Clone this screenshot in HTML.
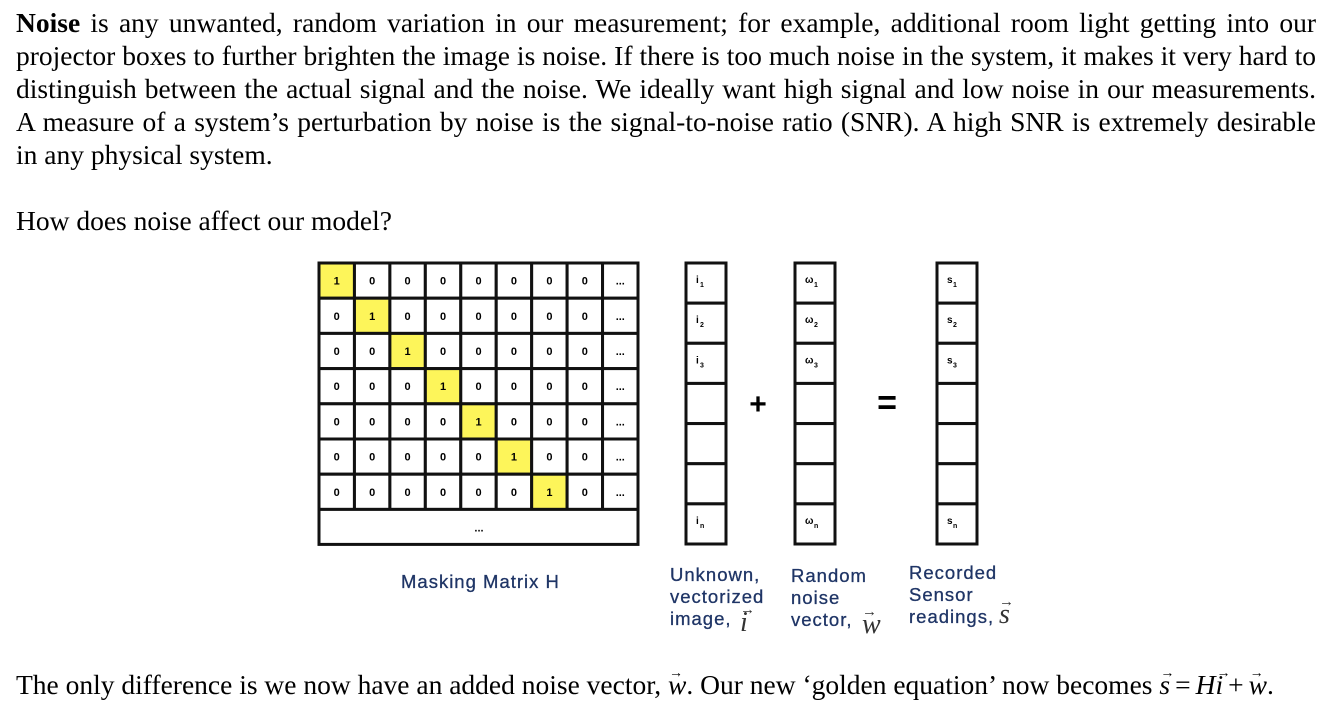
<!DOCTYPE html>
<html><head><meta charset="utf-8">
<style>
body{margin:0;width:1330px;height:714px;background:#fff;overflow:hidden;position:relative;font-family:"Liberation Serif","Times New Roman",serif;color:#000}
.ln{position:absolute;left:16px;width:1300px;font-size:27.5px;line-height:33px;white-space:nowrap}
.j{text-align:justify;text-align-last:justify;white-space:normal}
svg{position:absolute;left:0;top:0}
.v{font-style:italic;position:relative}
.v:before{content:"\2192";position:absolute;font-size:14px;top:-12px;left:1px;font-style:normal}
.op{margin:0 5px}
</style></head><body>
<div class="ln j" style="top:6px"><b>Noise</b> is any unwanted, random variation in our measurement; for example, additional room light getting into our</div>
<div class="ln j" style="top:39px">projector boxes to further brighten the image is noise. If there is too much noise in the system, it makes it very hard to</div>
<div class="ln j" style="top:72px">distinguish between the actual signal and the noise. We ideally want high signal and low noise in our measurements.</div>
<div class="ln j" style="top:105px">A measure of a system’s perturbation by noise is the signal-to-noise ratio (SNR). A high SNR is extremely desirable</div>
<div class="ln" style="top:138px">in any physical system.</div>
<div class="ln" style="top:204px">How does noise affect our model?</div>
<div class="ln" style="top:668px">The only difference is we now have an added noise vector, <span class="v">w</span>. Our new ‘golden equation’ now becomes <span class="v">s</span><span class="op">=</span><i>H</i><span class="v">i</span><span class="op">+</span><span class="v">w</span>.</div>

<svg id="fig" width="1330" height="714"></svg>
<script>
const NS="http://www.w3.org/2000/svg";
const svg=document.getElementById('fig');
function el(t,a,txt){const e=document.createElementNS(NS,t);for(const k in a)e.setAttribute(k,a[k]);if(txt!=null)e.textContent=txt;svg.appendChild(e);return e;}
const rows=7, cols=9;
const mx=319,my=263,cw=319/9,ch=35.2;
for(let r=0;r<rows;r++){for(let c=0;c<cols;c++){
 const x=mx+c*cw,y=my+r*ch;
 const r1=el('rect',{x:x,y:y,width:cw,height:ch,fill:(r===c?'#fdf55a':'#fff'),stroke:'#111','stroke-width':3});
 
 
 const t=el('text',{x:x+cw/2,y:y+ch/2+4,'text-anchor':'middle','font-family':'Liberation Sans, sans-serif','font-size':11,'font-weight':'bold'},c===8?'...':(r===c?'1':'0'));
 
 
}}
const br=el('rect',{x:mx,y:my+7*ch,width:319,height:35,fill:'#fff',stroke:'#111','stroke-width':3});


el('text',{x:mx+160,y:my+7*ch+22,'text-anchor':'middle','font-family':'Liberation Sans, sans-serif','font-size':11,'font-weight':'bold'},'...');
const vecs=[{x:686,l:'i'},{x:795,l:'ω'},{x:937,l:'s'}];
const vh=281/7;
vecs.forEach(v=>{for(let k=0;k<7;k++){
 const y=263+k*vh;
 const r=el('rect',{x:v.x,y:y,width:40,height:vh,fill:'#fff',stroke:'#111','stroke-width':3});
 
 
 const sub=k<3?String(k+1):(k===6?'n':null);
 if(sub){const t=el('text',{x:v.x+10,y:y+20,'font-family':'Liberation Sans, sans-serif','font-size':10,'font-weight':'bold'},v.l);
  
  
  el('text',{x:v.x+(v.l==='ω'?19:(v.l==='s'?16:14)),y:y+24,'font-family':'Liberation Sans, sans-serif','font-size':7,'font-weight':'bold'},sub);}
}});
el('text',{x:758,y:414,'text-anchor':'middle','font-family':'Liberation Sans, sans-serif','font-size':30,'font-weight':'bold'},'+');
el('text',{x:887,y:414,'text-anchor':'middle','font-family':'Liberation Sans, sans-serif','font-size':34,'font-weight':'bold'},'=');
function T(x,y,s,nm){const t=el('text',{x:x,y:y,'font-family':'Liberation Sans, sans-serif','font-size':18.5,'letter-spacing':1,fill:'#1f3566',stroke:'#1f3566','stroke-width':0.3},s);return t;}
T(401,588,'Masking Matrix H','matrix-label');
T(670,581,'Unknown,','image-label');T(670,603,'vectorized','image-label');T(670,625,'image,','image-label');
T(791,582,'Random','noise-label');T(791,604,'noise','noise-label');T(791,626,'vector,','noise-label');
T(909,579,'Recorded','sensor-label');T(909,601,'Sensor','sensor-label');T(909,623,'readings,','sensor-label');
function V(x,y,s){el('text',{x:x,y:y,'font-family':'Liberation Serif, serif','font-size':28,'font-style':'italic',fill:'#333'},s);el('text',{x:x,y:y-17,'font-family':'Liberation Sans, sans-serif','font-size':15,fill:'#333'},'→');}
V(740,631,'i');V(862,633,'w');V(999,623,'s');
</script>
</body></html>
